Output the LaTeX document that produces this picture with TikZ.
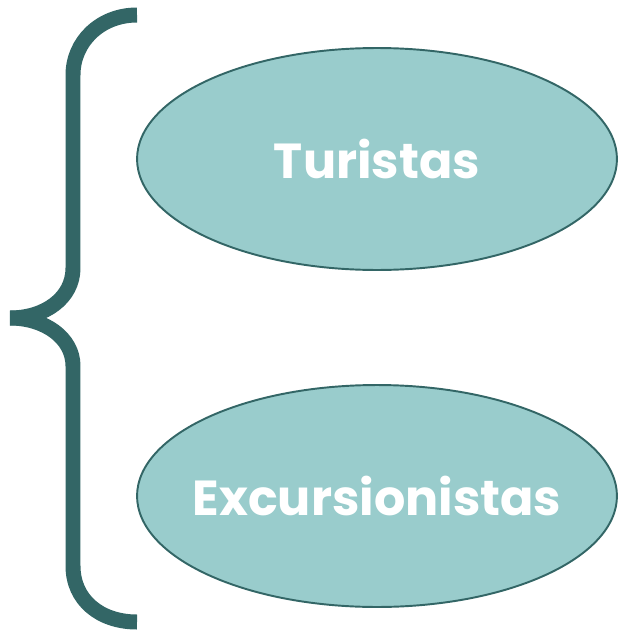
\documentclass[tikz,border=0pt]{standalone}
\usepackage{fontspec}
\setmainfont{Poppins}
\usepackage{xcolor}
\usetikzlibrary{shapes,positioning,calc}

\definecolor{tealdark}{HTML}{336666}
\definecolor{teallight}{HTML}{99CCCC}

\begin{document}
\begin{tikzpicture}[
    x=0.02cm, y=-0.02cm,
    group/.style={ellipse, draw=tealdark, line width=1.1pt, fill=teallight, inner sep=0pt, minimum width=9.6cm, minimum height=4.44cm, text=white, font=\fontsize{28}{32}\selectfont\bfseries},
    brace/.style={draw=tealdark, line width=0.3cm, line cap=butt}
]
    \useasboundingbox (0,0) rectangle (621,632);

    \node [group] (turistas) at (377,159) {\makebox[0pt]{Turistas}};
    \node [group] (excursionistas) at (377,496) {\makebox[0pt]{Excursionistas}};

    % brace
    \draw [brace] (137,15) .. controls (100,15) and (73,42) .. (73,75) -- (73,268)
        .. controls (73,298) and (45,318) .. (10,318);
    \draw [brace] (10,318) .. controls (45,318) and (73,338) .. (73,366) -- (73,566)
        .. controls (73,600) and (100,622) .. (137,622);
\end{tikzpicture}
\end{document}
